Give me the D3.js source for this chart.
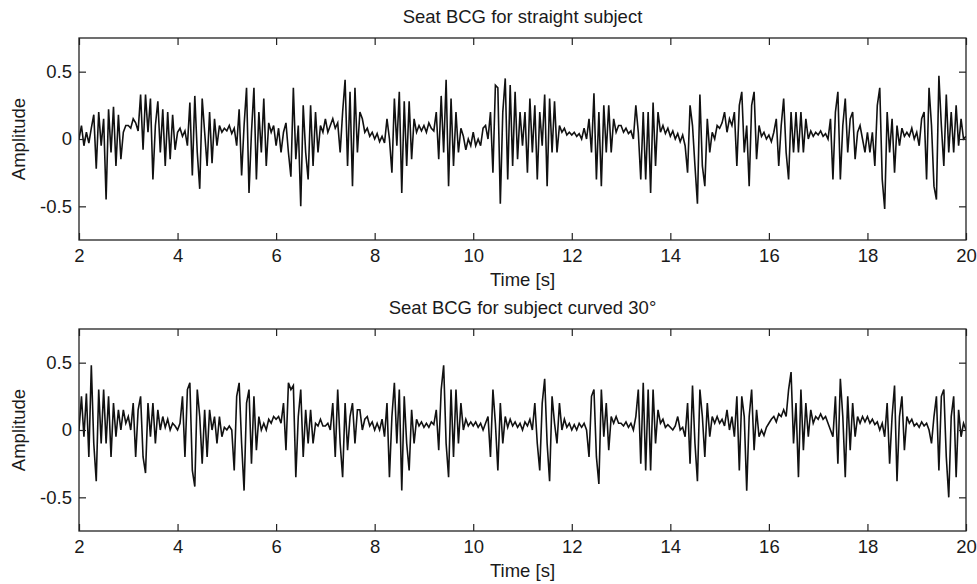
<!DOCTYPE html>
<html>
<head>
<meta charset="utf-8">
<script src="https://cdn.jsdelivr.net/npm/d3@7"></script>
<style>
  body { margin: 0; background: #fff; }
  text { font-family: "Liberation Sans", Arial, sans-serif; fill: #1a1a1a; }
</style>
</head>
<body>
<div id="chart"></div>
<script>
// sampled signals, one row per second (dt = 0.05 s), starting at t = 2 s
var startTime = 2;
var sampleStep = 0.05;

var straightValues = [
  0.0, 0.1, -0.05, 0.05, -0.03, 0.08, 0.18, -0.22, 0.2, -0.05, 0.15, -0.45, 0.22, -0.1, 0.24, -0.2, 0.18, -0.15, 0.05, 0.1,
  0.1, 0.08, 0.15, 0.12, 0.06, 0.33, -0.08, 0.33, 0.05, 0.3, -0.3, 0.1, 0.28, -0.1, 0.22, -0.2, 0.2, -0.15, 0.18, -0.08,
  0.05, 0.08, 0.02, 0.06, -0.05, 0.27, -0.27, 0.32, -0.1, -0.37, 0.3, 0.05, -0.2, 0.2, -0.18, 0.15, -0.05, 0.1, 0.05, 0.08,
  0.06, 0.1, 0.04, 0.08, -0.05, 0.22, -0.27, 0.1, 0.38, -0.4, 0.05, 0.38, -0.3, 0.2, -0.1, 0.3, -0.2, 0.12, 0.05, 0.1,
  -0.05, 0.08, -0.1, 0.05, 0.12, -0.1, -0.28, 0.38, -0.15, 0.1, -0.5, 0.25, -0.1, -0.3, 0.25, -0.2, 0.2, -0.1, 0.1, 0.05,
  0.15, 0.05, 0.1, 0.15, 0.08, 0.12, -0.1, 0.2, 0.44, -0.2, 0.35, -0.35, 0.38, -0.1, 0.2, 0.15, 0.05, 0.08, 0.02, 0.05,
  0.0, 0.04, -0.02, 0.02, -0.03, 0.15, 0.0, -0.25, 0.3, -0.05, 0.35, -0.4, 0.28, -0.2, 0.28, -0.15, 0.15, 0.05, 0.1, 0.06,
  0.1, 0.05, 0.12, 0.08, 0.06, 0.2, -0.15, 0.32, -0.1, 0.44, -0.35, 0.3, -0.2, 0.2, -0.1, 0.08, 0.02, -0.08, 0.0, -0.05,
  0.05, -0.05, 0.0, -0.05, 0.08, 0.1, 0.0, 0.2, -0.25, 0.4, 0.38, -0.48, 0.2, 0.45, -0.3, 0.4, -0.2, 0.35, -0.15, 0.2,
  -0.05, 0.2, -0.25, 0.3, -0.1, 0.25, -0.3, 0.2, -0.05, 0.33, -0.35, 0.3, -0.1, 0.28, -0.1, 0.1, 0.05, 0.08, 0.03, 0.05,
  0.03, 0.05, 0.02, 0.04, 0.0, 0.08, 0.0, 0.15, -0.1, 0.34, -0.3, 0.2, -0.35, 0.25, -0.1, 0.25, -0.1, 0.15, 0.05, 0.1,
  0.1, 0.05, 0.08, 0.04, 0.06, 0.0, 0.25, 0.05, -0.3, 0.2, -0.3, 0.2, -0.4, 0.27, -0.2, 0.2, 0.05, 0.1, 0.04, 0.08,
  0.02, 0.06, 0.0, 0.04, -0.02, 0.03, -0.05, -0.25, 0.25, 0.1, -0.2, -0.48, 0.33, -0.2, -0.35, 0.15, -0.1, 0.05, 0.0, 0.1,
  0.08, 0.12, 0.2, 0.05, 0.15, 0.1, 0.2, -0.2, 0.25, 0.35, -0.1, 0.1, -0.35, 0.25, 0.35, -0.15, 0.1, 0.02, 0.05, 0.0,
  0.03, -0.02, 0.05, 0.15, -0.2, 0.1, 0.3, -0.1, -0.3, 0.2, -0.1, 0.2, -0.1, 0.2, -0.1, 0.15, 0.0, 0.06, 0.02, 0.05,
  0.03, 0.06, 0.02, 0.04, 0.0, 0.15, -0.3, 0.2, 0.35, -0.3, 0.1, 0.3, -0.1, 0.15, 0.2, -0.15, 0.05, 0.1, 0.0, -0.1,
  0.05, -0.1, 0.05, -0.2, 0.25, 0.38, -0.3, -0.52, 0.2, -0.1, 0.15, -0.25, 0.1, -0.05, 0.08, 0.02, 0.05, 0.02, 0.08, 0.0,
  0.05, -0.05, 0.15, 0.2, -0.3, 0.38, 0.1, -0.35, -0.45, 0.47, 0.1, -0.2, 0.33, -0.1, 0.2, -0.1, 0.25, -0.05, 0.15, 0.0,
  0.02
];

var curvedValues = [
  0.0, 0.25, -0.05, 0.27, -0.2, 0.48, -0.1, -0.38, 0.3, -0.1, 0.3, -0.1, 0.25, -0.2, 0.2, -0.05, 0.15, 0.0, 0.15, 0.05,
  0.1, 0.0, 0.2, -0.2, 0.15, 0.25, -0.2, -0.32, 0.2, -0.05, 0.2, -0.1, 0.15, 0.0, 0.1, 0.02, 0.08, 0.0, 0.05, 0.03,
  0.0, 0.05, 0.25, -0.2, 0.3, 0.35, -0.3, -0.42, 0.3, 0.1, -0.25, 0.15, -0.2, 0.15, 0.0, 0.1, -0.1, 0.1, -0.05, 0.02,
  0.0, 0.03, 0.0, -0.3, 0.25, 0.35, -0.1, -0.45, 0.2, 0.3, -0.25, 0.25, -0.15, 0.1, 0.0, 0.05, 0.0, 0.08, 0.05, 0.1,
  0.08, 0.1, 0.05, 0.2, -0.15, 0.35, 0.3, 0.33, -0.35, 0.1, 0.3, -0.2, 0.15, -0.1, 0.15, -0.1, 0.05, 0.03, 0.08, 0.03,
  0.03, 0.05, 0.0, 0.2, -0.2, 0.3, -0.1, -0.35, 0.2, -0.15, 0.1, 0.2, -0.1, 0.15, 0.15, 0.0, 0.08, 0.1, 0.03, 0.06,
  0.0, 0.05, 0.0, 0.08, -0.05, 0.2, -0.35, 0.1, 0.35, -0.1, 0.3, -0.45, 0.25, -0.1, -0.3, 0.15, -0.1, 0.08, 0.03, 0.06,
  0.02, 0.05, 0.02, 0.06, 0.04, 0.15, -0.15, 0.3, 0.48, -0.1, -0.35, 0.3, -0.2, 0.3, -0.1, 0.2, 0.0, 0.08, 0.03, 0.06,
  0.03, 0.06, 0.02, 0.05, 0.0, 0.05, 0.1, -0.2, 0.3, 0.05, -0.3, 0.2, -0.1, 0.1, 0.02, 0.08, 0.03, 0.06, 0.02, 0.05,
  0.0, 0.06, 0.03, 0.08, 0.0, 0.2, -0.1, -0.3, 0.2, 0.38, -0.1, -0.38, 0.25, 0.05, -0.1, 0.2, 0.0, 0.08, 0.02, 0.05,
  0.0, 0.04, 0.0, 0.05, 0.02, 0.05, 0.0, -0.2, 0.25, 0.3, -0.2, -0.4, 0.3, -0.05, 0.2, -0.15, 0.1, 0.05, 0.1, 0.05,
  0.05, 0.03, 0.06, 0.02, 0.05, 0.0, 0.1, 0.3, -0.25, 0.35, -0.3, 0.3, -0.3, 0.3, -0.1, 0.15, 0.05, 0.08, 0.02, 0.04,
  0.02, 0.0, 0.03, 0.1, 0.0, 0.02, -0.05, 0.2, -0.25, 0.33, -0.1, -0.38, 0.3, 0.1, -0.2, 0.2, -0.05, 0.1, 0.05, 0.1,
  0.05, 0.08, 0.03, 0.15, 0.0, 0.1, -0.05, 0.25, -0.3, 0.25, 0.1, -0.45, 0.1, 0.3, -0.15, 0.15, -0.05, 0.0, -0.04, 0.02,
  0.05, 0.08, 0.1, 0.06, 0.12, 0.1, 0.15, 0.1, 0.3, 0.43, -0.1, 0.2, -0.35, 0.3, -0.15, 0.2, -0.05, 0.15, 0.05, 0.1,
  0.08, 0.12, 0.08, 0.1, 0.05, 0.0, -0.05, 0.25, -0.25, 0.38, 0.1, -0.35, 0.25, -0.15, 0.2, -0.05, 0.1, 0.05, 0.1, 0.06,
  0.1, 0.05, 0.08, 0.04, 0.06, 0.0, 0.05, -0.05, 0.2, -0.25, 0.1, 0.33, -0.38, 0.1, 0.25, -0.15, 0.1, 0.05, 0.08, 0.03,
  0.05, 0.02, 0.06, 0.03, 0.05, 0.0, -0.1, 0.1, 0.25, -0.3, 0.25, 0.3, -0.2, -0.5, 0.1, 0.25, -0.35, 0.15, -0.05, 0.05,
  0.0
];

var xTicks = [2, 4, 6, 8, 10, 12, 14, 16, 18, 20];
var yTicks = [-0.5, 0, 0.5];
var titles = ['Seat BCG for straight subject', 'Seat BCG for subject curved 30\u00b0'];

//LAYOUT
var width = 977, height = 584;
var plotLeft = 79, plotRight = 966;
var panelTops = [38, 329];
var panelHeight = 202;
var tickLen = 7;
var fontSize = '18.5px';

var svg = d3.select('#chart').append('svg')
  .attr('width', width)
  .attr('height', height);

var x = d3.scaleLinear().domain([2, 20]).range([plotLeft, plotRight]);

function drawPanel(values, top, title, idx) {
  var y = d3.scaleLinear().domain([-0.75, 0.75]).range([top + panelHeight, top]);
  var g = svg.append('g');

  g.append('clipPath').attr('id', 'clip' + idx)
    .append('rect')
    .attr('x', plotLeft).attr('y', top)
    .attr('width', plotRight - plotLeft).attr('height', panelHeight);

  var line = d3.line()
    .x(function(d, i) { return x(startTime + i * sampleStep); })
    .y(function(d) { return y(d); });

  g.append('path')
    .datum(values)
    .attr('clip-path', 'url(#clip' + idx + ')')
    .attr('fill', 'none')
    .attr('stroke', '#111')
    .attr('stroke-width', 1.6)
    .attr('stroke-linejoin', 'miter')
    .attr('d', line);

  // axes, ticks point inward like matlab
  g.append('g')
    .attr('transform', 'translate(0,' + (top + panelHeight) + ')')
    .call(d3.axisBottom(x).tickValues(xTicks).tickSize(-tickLen).tickPadding(9).tickFormat(d3.format('d')));
  g.append('g')
    .attr('transform', 'translate(0,' + top + ')')
    .call(d3.axisTop(x).tickValues(xTicks).tickSize(-tickLen).tickFormat(''));
  g.append('g')
    .attr('transform', 'translate(' + plotLeft + ',0)')
    .call(d3.axisLeft(y).tickValues(yTicks).tickSize(-tickLen).tickPadding(7).tickFormat(function(d) { return d === 0 ? '0' : d; }));
  g.append('g')
    .attr('transform', 'translate(' + plotRight + ',0)')
    .call(d3.axisRight(y).tickValues(yTicks).tickSize(-tickLen).tickFormat(''));

  g.selectAll('.domain').remove();
  g.selectAll('.tick line').attr('stroke', '#222').attr('stroke-width', 1.2);
  g.selectAll('.tick text')
    .style('font-family', '"Liberation Sans", Arial, sans-serif')
    .style('font-size', fontSize)
    .attr('fill', '#1a1a1a');

  g.append('rect')
    .attr('x', plotLeft).attr('y', top)
    .attr('width', plotRight - plotLeft).attr('height', panelHeight)
    .attr('fill', 'none')
    .attr('stroke', '#222')
    .attr('stroke-width', 1.3);

  g.append('text')
    .attr('x', (plotLeft + plotRight) / 2)
    .attr('y', top - 15)
    .attr('text-anchor', 'middle')
    .style('font-size', fontSize)
    .text(title);

  g.append('text')
    .attr('x', (plotLeft + plotRight) / 2)
    .attr('y', top + panelHeight + 46)
    .attr('text-anchor', 'middle')
    .style('font-size', fontSize)
    .text('Time [s]');

  g.append('text')
    .attr('transform', 'translate(25,' + (top + panelHeight / 2) + ') rotate(-90)')
    .attr('text-anchor', 'middle')
    .style('font-size', fontSize)
    .text('Amplitude');
}

drawPanel(straightValues, panelTops[0], titles[0], 0);
drawPanel(curvedValues, panelTops[1], titles[1], 1);
</script>
</body>
</html>
